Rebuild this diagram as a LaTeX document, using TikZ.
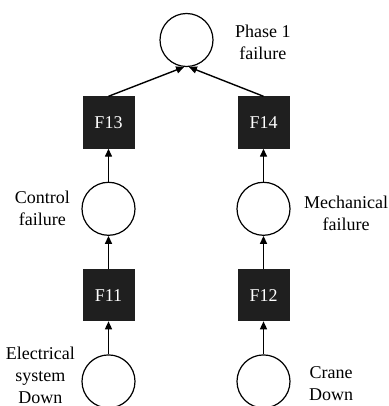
\documentclass[tikz,border=0pt]{standalone}
\usepackage{fontspec}
\setmainfont{Liberation Serif}
\usetikzlibrary{positioning,arrows.meta}
\tikzset{
>={Triangle[length=8pt,width=7pt]},
  event/.style={
    circle,
    draw=black, line width=1.2pt,
    minimum size=53pt,
    inner sep=0pt},
  gate/.style={
    rectangle,
    fill=black!88,
    text=white,
    minimum size=52pt,
    inner sep=0pt,
    font=\fontsize{18}{22}\selectfont},
  line/.style={draw, line width=1.4pt, ->},
  tag/.style={align=center, font=\fontsize{18}{22}\selectfont},
}

\begin{document}
\begin{tikzpicture}
  [x=1pt, y=1pt,
  node distance=33pt]
  \useasboundingbox (0,0) rectangle (388,-406);
  % top event and the two gates
  \node[event] (phase) at (186.5,-40) {};
  \node[gate] (f13) at (108.5,-122.5) {F13};
  \node[gate] (f14) at (263.5,-122.5) {F14};
  % left branch
  \node[event, below=of f13] (control) {};
  \node[gate, below=of control] (f11) {F11};
  \node[event, below=of f11] (elec) {};
  % right branch
  \node[event, below=of f14] (mech) {};
  \node[gate, below=of mech] (f12) {F12};
  \node[event, below=of f12] (crane) {};
  % labels
  \node[tag, right=18pt of phase, yshift=-2pt] (phaselbl) {Phase 1\\failure};
  \node[tag, left=8pt of control] (controllbl) {Control\\failure};
  \node[tag, right=10pt of mech, yshift=-5pt] (mechlbl) {Mechanical\\failure};
  \node[tag, left=3pt of elec, yshift=6pt] (eleclbl) {Electrical\\system\\Down};
  \node[tag, right=15pt of crane, yshift=-2pt] (cranelbl) {Crane\\Down};
  % connectors
  \path[line] (f13.north) -- (phase.265);
  \path[line] (f14.north) -- (phase.275);
  \path[line] (control) -- (f13);
  \path[line] (f11) -- (control);
  \path[line] (elec) -- (f11);
  \path[line] (mech) -- (f14);
  \path[line] (f12) -- (mech);
  \path[line] (crane) -- (f12);
\end{tikzpicture}
\end{document}
